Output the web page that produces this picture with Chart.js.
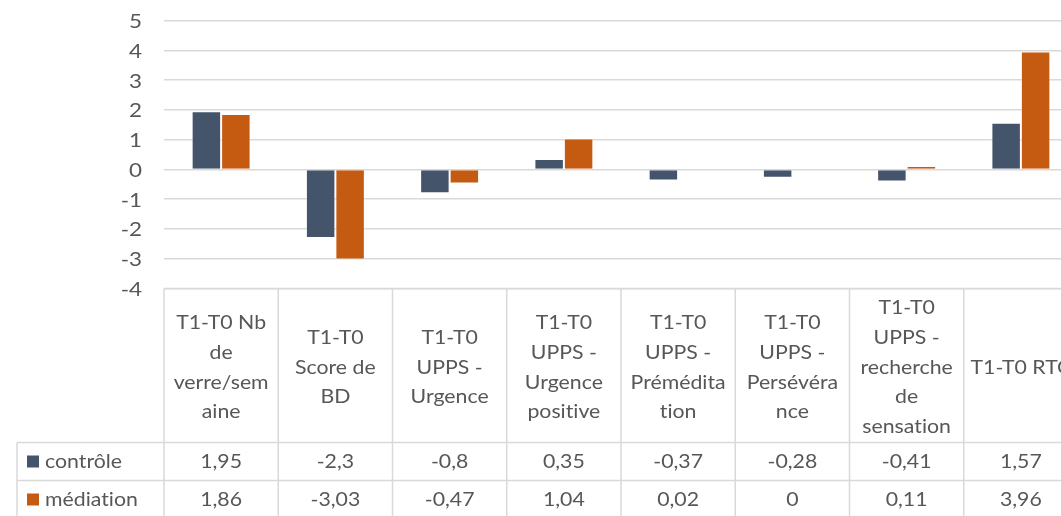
<!DOCTYPE html>
<html>
<head>
<meta charset="utf-8">
<script src="https://cdn.jsdelivr.net/npm/chart.js@4/dist/chart.umd.min.js"></script>
<style>
  html, body { margin: 0; padding: 0; background: #fff; }
  #clip { width: 1061px; height: 516px; overflow: hidden; }
  #wrap { width: 1100px; height: 516px; position: relative; }
</style>
</head>
<body>
<div id="clip"><div id="wrap"><canvas id="diffChart"></canvas></div></div>
<script>
// categories (already wrapped the way the table shows them)
const categories = [
  ["T1-T0 Nb", "de", "verre/sem", "aine"],
  ["T1-T0", "Score de", "BD"],
  ["T1-T0", "UPPS -", "Urgence"],
  ["T1-T0", "UPPS -", "Urgence", "positive"],
  ["T1-T0", "UPPS -", "Prémédita", "tion"],
  ["T1-T0", "UPPS -", "Persévéra", "nce"],
  ["T1-T0", "UPPS -", "recherche", "de", "sensation"],
  ["T1-T0 RTC"],
];
const seriesNames = ["contrôle", "médiation"];
const controle = [1.95, -2.3, -0.8, 0.35, -0.37, -0.28, -0.41, 1.57];
const mediation = [1.86, -3.03, -0.47, 1.04, 0.02, 0, 0.11, 3.96];
const yTicks = [-4, -3, -2, -1, 0, 1, 2, 3, 4, 5];

const textColor = "#575757";
const gridColor = "#D9D9D9";
const seriesColors = ["#44546A", "#C55A11"];
const fontFamily = "Lato, 'Open Sans', sans-serif";
const stretch = 1.12; // the source image is a bit wider than tall

const frNum = (v) => String(v).replace(".", ",");

function drawText(ctx, txt, x, y, align) {
  ctx.save();
  ctx.translate(x, y);
  ctx.scale(stretch, 1);
  ctx.textAlign = align || "center";
  ctx.fillText(txt, 0, 0);
  ctx.restore();
}

// draws y labels and the Excel-like data table under the plot area
const dataTablePlugin = {
  id: "dataTable",
  afterDraw(chart) {
    const { ctx, chartArea, scales } = chart;
    const x = scales.x;
    const y = scales.y;
    const top = chartArea.bottom;
    const headerH = 154;
    const rowH = 38;
    const legendLeft = 17;
    const half = (x.getPixelForValue(1) - x.getPixelForValue(0)) / 2;
    const bottom = top + headerH + rowH * 2 + 10;

    ctx.save();
    ctx.strokeStyle = gridColor;
    ctx.lineWidth = 1.5;

    ctx.beginPath();
    ctx.moveTo(chartArea.left, top);
    ctx.lineTo(chartArea.right, top);
    for (let r = 0; r < 2; r++) {
      const yy = top + headerH + r * rowH;
      ctx.moveTo(legendLeft, yy);
      ctx.lineTo(chartArea.right, yy);
    }
    ctx.moveTo(chartArea.left, top);
    ctx.lineTo(chartArea.left, bottom);
    categories.forEach((_, i) => {
      const xr = x.getPixelForValue(i) + half;
      ctx.moveTo(xr, top);
      ctx.lineTo(xr, bottom);
    });
    ctx.moveTo(legendLeft, top + headerH);
    ctx.lineTo(legendLeft, bottom);
    ctx.stroke();

    ctx.fillStyle = textColor;
    ctx.textBaseline = "middle";
    ctx.textRendering = "optimizeSpeed";

    // y axis labels
    ctx.font = "20px " + fontFamily;
    yTicks.forEach((v) => drawText(ctx, frNum(v), chartArea.left - 22, y.getPixelForValue(v) + 1, "right"));

    // header labels
    ctx.font = "19px " + fontFamily;
    const lineH = 29.8;
    categories.forEach((lines, i) => {
      const cx = x.getPixelForValue(i);
      const cy = top + headerH / 2 + 2;
      const y0 = cy - ((lines.length - 1) * lineH) / 2;
      lines.forEach((ln, k) => drawText(ctx, ln, cx, y0 + k * lineH));
    });

    // value rows
    [controle, mediation].forEach((vals, r) => {
      const cy = top + headerH + r * rowH + rowH / 2;
      ctx.fillStyle = textColor;
      vals.forEach((v, i) => drawText(ctx, frNum(v), x.getPixelForValue(i), cy));
      ctx.fillStyle = seriesColors[r];
      ctx.fillRect(27, cy - 6, 12, 12);
      ctx.fillStyle = textColor;
      drawText(ctx, seriesNames[r], 45, cy, "left");
    });
    ctx.restore();
  },
};

const ctx = document.getElementById("diffChart").getContext("2d");
new Chart(ctx, {
  type: "bar",
  data: {
    labels: categories,
    datasets: [
      {
        label: seriesNames[0],
        data: controle,
        backgroundColor: seriesColors[0],
        borderColor: "rgba(255,255,255,0.45)",
        borderWidth: 1,
      },
      {
        label: seriesNames[1],
        data: mediation,
        backgroundColor: seriesColors[1],
        borderColor: "rgba(255,255,255,0.35)",
        borderWidth: 1,
      },
    ],
  },
  options: {
    responsive: true,
    maintainAspectRatio: false,
    animation: false,
    categoryPercentage: 0.516,
    barPercentage: 1,
    layout: { padding: { top: 20.5, right: 22, bottom: 227.5, left: 0 } },
    scales: {
      x: { display: false },
      y: {
        min: yTicks[0],
        max: yTicks[yTicks.length - 1],
        afterFit(scale) {
          scale.width = 164;
          scale.paddingTop = 0;
          scale.paddingBottom = 0;
        },
        afterBuildTicks(scale) { scale.ticks = yTicks.map((v) => ({ value: v })); },
        ticks: { display: false },
        grid: { color: gridColor, lineWidth: 1.5, drawTicks: false },
        border: { display: false },
      },
    },
    plugins: {
      legend: { display: false },
      tooltip: { enabled: false },
    },
  },
  plugins: [dataTablePlugin],
});
</script>
</body>
</html>
